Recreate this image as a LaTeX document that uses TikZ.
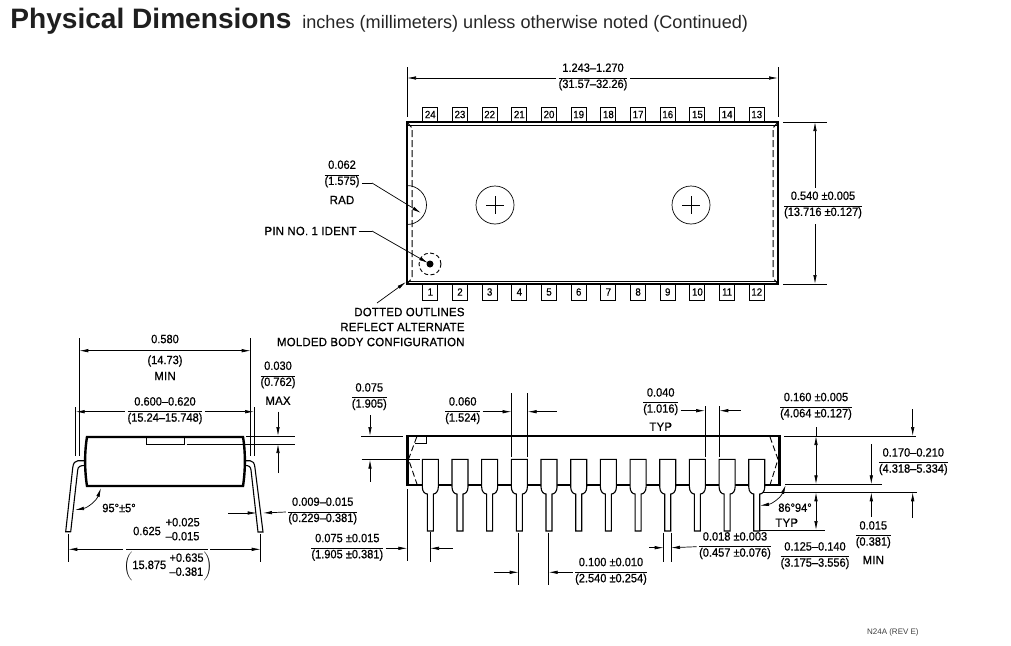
\documentclass[tikz,border=0pt]{standalone}
\usepackage{fontspec}
\usepackage{amsmath}
\usepackage{tikz}
\usetikzlibrary{arrows.meta}
\setmainfont{Liberation Sans}
\newfontfamily\dimfont[FakeStretch=0.92,FakeBold=0.7]{Liberation Sans}
\newfontfamily\capfont[FakeStretch=0.95,FakeBold=0.8,LetterSpace=2]{Liberation Sans}
\newcommand{\dimfrac}[2]{\begin{tabular}{@{}c@{}}\rule[-5.9pt]{0pt}{15pt}#1\\\hline\rule[-6pt]{0pt}{14.2pt}#2\end{tabular}}
\newcommand{\stacked}[2]{\begin{tabular}{@{}l@{}}\rule[-3pt]{0pt}{11pt}#1\\\rule[-3pt]{0pt}{11pt}#2\end{tabular}}

\begin{document}
\begin{tikzpicture}[x=1pt,y=-1pt,line width=.7pt,
    dimtext/.style={font=\dimfont\fontsize{12}{14}\selectfont,inner sep=0pt,outer sep=2.5pt},
    captext/.style={font=\capfont\fontsize{12}{14}\selectfont,inner sep=0pt,outer sep=2.5pt},
    pinbox/.style={draw,line width=.9pt,minimum width=15pt,font=\dimfont\fontsize{10.5}{12}\selectfont,inner sep=0pt},
    dimarrow/.style={-{Latex[length=9pt,width=3.5pt]}},
    bothways/.style={{Latex[length=9pt,width=3.5pt]}-{Latex[length=9pt,width=3.5pt]}},
    outline/.style={line width=2.4pt,line join=miter},
    altline/.style={line width=1pt,dashed,dash pattern=on 7pt off 3pt},
    leadpin/.style={draw,fill=white,line width=1.1pt}]
\useasboundingbox (0,0) rectangle (1011,645);

\node[anchor=base west,inner sep=0pt,text=black!88,font=\bfseries\fontsize{28.1}{30}\selectfont] (title) at (10,28.7) {Physical Dimensions};
\node[anchor=base west,inner sep=0pt,text=black!85,font=\fontsize{18.1}{20}\selectfont] (subtitle) at (302,28.7) {inches (millimeters) unless otherwise noted (Continued)};
\node[anchor=base east,inner sep=0pt,text=black!75,font=\fontsize{8}{10}\selectfont] (revision) at (919,634) {N24A (REV E)};

\begin{scope}[local bounding box=topview]
    \draw[outline] (407,122) rectangle (778,284);
    \draw (407,125.5) -- (778,125.5);
    \draw (407,281) -- (778,281);
    \draw[altline] (407,122) -- (412,128) -- (412,278) -- (407,284);
    \draw[altline] (778,122) -- (773,128) -- (773,278) -- (778,284);

    \foreach \n [evaluate=\n as \px using 430.3+29.68*(\n-1), evaluate=\n as \tn using int(25-\n)] in {1,...,12} {
        \node[pinbox,minimum height=15pt] (top\tn) at (\px,114.5) {\tn};
        \node[pinbox,minimum height=16pt] (bot\n) at (\px,292) {\n};
    }

    \draw (407,185.5) arc (90:-90:19.5pt);
    \draw (495,205) circle (19pt);
    \draw (486,205) -- (504,205);
    \draw (495,196) -- (495,214);
    \draw (691,205) circle (19pt);
    \draw (682,205) -- (700,205);
    \draw (691,196) -- (691,214);
    \fill (430,264) circle (3.5pt);
    \draw[line width=.9pt,dash pattern=on 4pt off 2.5pt] (430,264) circle (11pt);

    \coordinate (lenL) at (407,78);
    \coordinate (lenR) at (778,78);
    \coordinate (widT) at (815,122);
    \coordinate (widB) at (815,284);
    \coordinate (radK) at (372,183);
    \coordinate (radE) at (421,213);
    \coordinate (idK) at (372,231);
    \coordinate (idE) at (428,263);
    \coordinate (altS) at (377,303);
    \coordinate (altE) at (406,282);

    \node[dimtext] (len) at (593,78) {\dimfrac{1.243–1.270}{(31.57–32.26)}};
    \node[dimtext] (wid) at (823,206) {\dimfrac{0.540 ±0.005}{(13.716 ±0.127)}};
    \node[dimtext] (rad) at (342,175) {\dimfrac{0.062}{(1.575)}};
    \node[captext] (radword) at (342,200) {RAD};
    \node[captext,anchor=east] (pinid) at (359,231) {PIN NO. 1 IDENT};
    \node[captext,anchor=east] (alt1) at (467,312) {DOTTED OUTLINES};
    \node[captext,anchor=east] (alt2) at (467,327) {REFLECT ALTERNATE};
    \node[captext,anchor=east] (alt3) at (467,342) {MOLDED BODY CONFIGURATION};

    \draw (407,67) -- (407,117);
    \draw (778,67) -- (778,117);
    \draw (783,122) -- (827,122);
    \draw (783,284) -- (827,284);
    \draw[dimarrow] (len.west) -- (lenL);
    \draw[dimarrow] (len.east) -- (lenR);
    \draw[dimarrow] (wid.north -| widT) -- (widT);
    \draw[dimarrow] (wid.south -| widB) -- (widB);
    \draw (rad.east |- radK) -- (radK);
    \draw[dimarrow] (radK) -- (radE);
    \draw (pinid.east) -- (idK);
    \draw[dimarrow] (idK) -- (idE);
    \draw[dimarrow] (altS) -- (altE);
\end{scope}

\begin{scope}[local bounding box=sideview]
    \draw[leadpin] (85,460.7) -- (78,460.7) .. controls (75,460.7) and (73.2,463) .. (72.7,468) -- (65.7,531.7) -- (70.7,531.7) -- (77.7,470) .. controls (78,466.5) and (80,465.5) .. (85,465.5);
    \draw[leadpin] (245,460.7) -- (250,460.7) .. controls (253,460.7) and (254.5,463) .. (255,468) -- (263,532) -- (258,532) -- (251,470) .. controls (250.5,466.5) and (249,465.5) .. (245,465.5);
    \draw[outline] (87,437) -- (243,437) .. controls (245.5,452) and (245.5,470) .. (243,486) -- (87,486) .. controls (84.5,470) and (84.5,452) .. (87,437) -- cycle;
    \draw[line width=1pt] (146,437) -- (146,444) -- (184.3,444) -- (184.3,437);

    \coordinate (minL) at (79.3,350.7);
    \coordinate (minR) at (250.7,350.7);
    \coordinate (spanL) at (75.7,411.7);
    \coordinate (spanR) at (254,411.7);
    \coordinate (lipT) at (278,436);
    \coordinate (lipTs) at (278,411.7);
    \coordinate (lipB) at (278,444);
    \coordinate (lipBs) at (278,473);
    \coordinate (thkL) at (256.7,513);
    \coordinate (thkLs) at (228,513);
    \coordinate (thkR) at (263,513);
    \coordinate (angA) at (75,510);
    \coordinate (angB) at (101,488);
    \coordinate (feetL) at (68.3,549.3);
    \coordinate (feetR) at (260.7,549.3);

    \node[dimtext] (min1) at (165,339) {0.580};
    \node[dimtext] (min2) at (165,361) {(14.73)};
    \node[captext] (min3) at (165,376) {MIN};
    \node[dimtext] (span) at (165,411.7) {\dimfrac{0.600–0.620}{(15.24–15.748)}};
    \node[dimtext] (lip) at (278,376) {\dimfrac{0.030}{(0.762)}};
    \node[captext] (lipword) at (278,400.7) {MAX};
    \node[dimtext] (thk) at (322.7,512) {\dimfrac{0.009–0.015}{(0.229–0.381)}};
    \node[dimtext] (ang) at (119,508) {95°±5°};
    \node[dimtext] (feet1) at (147,531) {0.625};
    \node[dimtext] (feet2) at (182.7,530.5) {\stacked{+0.025}{–0.015}};
    \node[dimtext] (feet3) at (168,566) {$\left(\mbox{15.875}\;\mbox{\stacked{+0.635}{–0.381}}\right)$};

    \draw (79.3,338) -- (79.3,456);
    \draw (250.7,338) -- (250.7,456);
    \draw (75.7,407) -- (75.7,456);
    \draw (254,407) -- (254,456);
    \draw (246,436) -- (295,436);
    \draw (186.7,444) -- (295,444);
    \draw (68.3,534) -- (68.3,562);
    \draw (260.7,534) -- (260.7,562);
    \draw (126,549.3) -- (208,549.3);
    \draw[bothways] (minL) -- (minR);
    \draw[dimarrow] (span.west) -- (spanL);
    \draw[dimarrow] (span.east) -- (spanR);
    \draw[dimarrow] (lipTs) -- (lipT);
    \draw[dimarrow] (lipBs) -- (lipB);
    \draw[dimarrow] (thkLs) -- (thkL);
    \draw[dimarrow] (thk.west) -- (thkR);
    \draw[bothways] (angA) to[bend right=30] (angB);
    \draw[dimarrow] (123,549.3) -- (feetL);
    \draw[dimarrow] (210,549.3) -- (feetR);
\end{scope}

\begin{scope}[local bounding box=frontview]
    \draw[outline] (407.3,436) rectangle (779.3,485);
    \draw[line width=.9pt,dashed,dash pattern=on 6pt off 3pt] (416.7,437) -- (408.5,459.3) -- (417.3,485);
    \draw[line width=.9pt,dashed,dash pattern=on 6pt off 3pt] (770,437) -- (778,459.3) -- (770,485);
    \draw[line width=1pt] (426,436) -- (426,443.5) -- (415,443.5);

    \foreach \n [evaluate=\n as \px using 430.3+29.68*(\n-1)] in {1,...,12} {
        \draw[leadpin] (\px-8,459.3) -- (\px+8,459.3) -- (\px+8,487) .. controls (\px+8,491.5) and (\px+5.5,494) .. (\px+3,494) -- (\px+3,531) -- (\px-3,531) -- (\px-3,494) .. controls (\px-5.5,494) and (\px-8,491.5) .. (\px-8,487) -- cycle;
    }

    \coordinate (capT) at (370,436);
    \coordinate (capTs) at (370,415);
    \coordinate (capB) at (370,459.7);
    \coordinate (capBs) at (370,481.7);
    \coordinate (wideL) at (511.5,411.7);
    \coordinate (wideR) at (527.7,411.7);
    \coordinate (wideRs) at (556.7,411.7);
    \coordinate (typL) at (705,410.7);
    \coordinate (typR) at (719.3,410.7);
    \coordinate (typRs) at (740.7,410.7);
    \coordinate (bodyT) at (816,436);
    \coordinate (bodyB) at (816,484.3);
    \coordinate (seatT) at (816,492.3);
    \coordinate (seatB) at (816,530);
    \coordinate (totT) at (912.7,436);
    \coordinate (totTs) at (912.7,409.3);
    \coordinate (totB) at (912.7,492.3);
    \coordinate (totBs) at (912.7,518);
    \coordinate (gapT) at (871.3,484.3);
    \coordinate (gapB) at (871.3,492.3);
    \coordinate (gapBs) at (871.3,516.7);
    \coordinate (tipA) at (760,505.7);
    \coordinate (tipB) at (785.7,485);
    \coordinate (legL) at (663.7,547.7);
    \coordinate (legLs) at (649.3,547.7);
    \coordinate (legR) at (671,547.7);
    \coordinate (endL) at (407.3,548.3);
    \coordinate (endR) at (430,548.3);
    \coordinate (endRs) at (452.7,548.3);
    \coordinate (stepL) at (518.7,572.3);
    \coordinate (stepLs) at (494.3,572.3);
    \coordinate (stepR) at (548.7,572.3);

    \node[dimtext] (cap) at (369.3,397.7) {\dimfrac{0.075}{(1.905)}};
    \node[dimtext] (wide) at (462.7,411.7) {\dimfrac{0.060}{(1.524)}};
    \node[dimtext] (typ) at (660.7,402.7) {\dimfrac{0.040}{(1.016)}};
    \node[captext] (typword) at (660.7,426.7) {TYP};
    \node[dimtext] (body) at (816,407.3) {\dimfrac{0.160 ±0.005}{(4.064 ±0.127)}};
    \node[dimtext] (tot) at (913.3,462.7) {\dimfrac{0.170–0.210}{(4.318–5.334)}};
    \node[dimtext] (gap) at (873.3,535.7) {\dimfrac{0.015}{(0.381)}};
    \node[captext] (gapword) at (873.3,560) {MIN};
    \node[dimtext] (seat) at (815,556.7) {\dimfrac{0.125–0.140}{(3.175–3.556)}};
    \node[dimtext] (tip) at (795,507.7) {86°94°};
    \node[captext] (tipword) at (786.7,522.7) {TYP};
    \node[dimtext] (leg) at (735,546.7) {\dimfrac{0.018 ±0.003}{(0.457 ±0.076)}};
    \node[dimtext] (endd) at (347.3,548.3) {\dimfrac{0.075 ±0.015}{(1.905 ±0.381)}};
    \node[dimtext] (step) at (611,572.3) {\dimfrac{0.100 ±0.010}{(2.540 ±0.254)}};

    \draw (361,436) -- (402.7,436);
    \draw (361.7,459.7) -- (420,459.7);
    \draw (511.5,393) -- (511.5,457);
    \draw (527.7,393) -- (527.7,457);
    \draw (705,406) -- (705,457);
    \draw (719.3,406) -- (719.3,457);
    \draw (784,436) -- (916,436);
    \draw (785,484.3) -- (881.7,484.3);
    \draw (763.3,492.3) -- (916.7,492.3);
    \draw (759,530) -- (825,530);
    \draw (816,427) -- (816,436);
    \draw (663.7,532.7) -- (663.7,561.7);
    \draw (671,532.7) -- (671,561.7);
    \draw (407.3,489) -- (407.3,560.7);
    \draw (430,532) -- (430,561.7);
    \draw (518.7,532.7) -- (518.7,585);
    \draw (548.7,532.7) -- (548.7,585);

    \draw[dimarrow] (capTs) -- (capT);
    \draw[dimarrow] (capBs) -- (capB);
    \draw[dimarrow] (wide.east) -- (wideL);
    \draw[dimarrow] (wideRs) -- (wideR);
    \draw[dimarrow] (typ.east |- typL) -- (typL);
    \draw[dimarrow] (typRs) -- (typR);
    \draw[bothways] (bodyT) -- (bodyB);
    \draw[bothways] (seatT) -- (seatB);
    \draw[dimarrow] (totTs) -- (totT);
    \draw[dimarrow] (totBs) -- (totB);
    \draw[dimarrow] (tot.north -| gapT) -- (gapT);
    \draw[dimarrow] (gapBs) -- (gapB);
    \draw[bothways] (tipA) to[bend right=30] (tipB);
    \draw[dimarrow] (legLs) -- (legL);
    \draw[dimarrow] (leg.west) -- (legR);
    \draw[dimarrow] (endd.east) -- (endL);
    \draw[dimarrow] (endRs) -- (endR);
    \draw[dimarrow] (stepLs) -- (stepL);
    \draw[dimarrow] (step.west) -- (stepR);
\end{scope}
\end{tikzpicture}
\end{document}
